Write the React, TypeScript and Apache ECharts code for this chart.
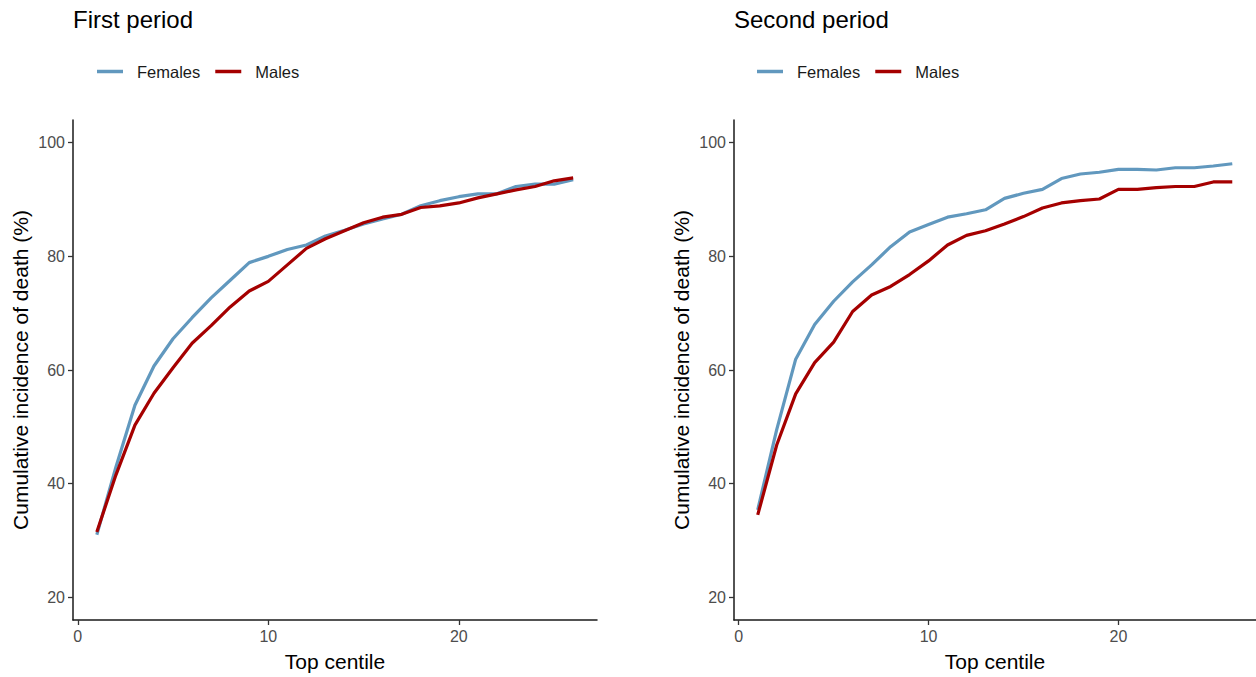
import React, { useEffect, useRef } from "react";
import * as echarts from "echarts";

const centiles = [1, 2, 3, 4, 5, 6, 7, 8, 9, 10, 11, 12, 13, 14, 15, 16, 17, 18, 19, 20, 21, 22, 23, 24, 25, 26];
const firstFemales = [31.0, 42.9, 53.8, 60.7, 65.5, 69.2, 72.7, 75.8, 78.9, 80.0, 81.2, 82.0, 83.6, 84.6, 85.7, 86.6, 87.4, 88.9, 89.8, 90.5, 91.0, 91.0, 92.3, 92.7, 92.7, 93.5];
const firstMales = [31.5, 41.5, 50.3, 55.9, 60.4, 64.7, 67.8, 71.1, 73.9, 75.6, 78.5, 81.4, 83.1, 84.5, 85.9, 86.9, 87.4, 88.6, 88.9, 89.4, 90.3, 91.0, 91.7, 92.3, 93.3, 93.8];
const secondFemales = [35.4, 49.5, 61.9, 68.0, 72.1, 75.5, 78.5, 81.7, 84.3, 85.6, 86.9, 87.5, 88.2, 90.2, 91.1, 91.8, 93.7, 94.5, 94.8, 95.3, 95.3, 95.2, 95.6, 95.6, 95.9, 96.3];
const secondMales = [34.5, 46.8, 55.8, 61.3, 64.9, 70.3, 73.2, 74.7, 76.8, 79.2, 82.0, 83.7, 84.5, 85.7, 87.0, 88.5, 89.4, 89.8, 90.1, 91.8, 91.8, 92.1, 92.3, 92.3, 93.1, 93.1];
const panelTitles = ["First period", "Second period"];
const xTicks = [0, 10, 20];
const yTicks = [20, 40, 60, 80, 100];

const FONT = "'Liberation Sans', Arial, sans-serif";
const BLUE = "#6198be";
const RED = "#a50000";

export default function App() {
  const ref = useRef<HTMLDivElement>(null);
  useEffect(() => {
    document.body.style.margin = "0";
    if (!ref.current) return;
    const chart = echarts.init(ref.current, undefined, { renderer: "svg" });
    const pair = (xs: number[], ys: number[]) => xs.map((x, i) => [x, ys[i]]);
    const mkX = (gi: number) => ({
      type: "value",
      gridIndex: gi,
      min: -0.25,
      max: 27.25,
      name: "Top centile",
      nameLocation: "middle",
      nameGap: 31,
      nameTextStyle: { fontSize: 21, color: "#000", fontFamily: FONT },
      axisLine: { show: true, onZero: false, lineStyle: { color: "#1a1a1a", width: 1.5 } },
      axisTick: { show: true, length: 5, customValues: xTicks, lineStyle: { color: "#333", width: 1.3 } },
      axisLabel: { customValues: xTicks, color: "#4d4d4d", fontSize: 16, fontFamily: FONT, margin: 8 },
      splitLine: { show: false },
    });
    const mkY = (gi: number) => ({
      type: "value",
      gridIndex: gi,
      min: 16,
      max: 104,
      name: "Cumulative incidence of death (%)",
      nameLocation: "middle",
      nameGap: 42,
      nameTextStyle: { fontSize: 21, color: "#000", fontFamily: FONT },
      axisLine: { show: true, onZero: false, lineStyle: { color: "#1a1a1a", width: 1.5 } },
      axisTick: { show: true, length: 5, customValues: yTicks, lineStyle: { color: "#333", width: 1.3 } },
      axisLabel: { customValues: yTicks, color: "#4d4d4d", fontSize: 16, fontFamily: FONT, margin: 8 },
      splitLine: { show: false },
    });
    const lineSeries = (name: string, gi: number, data: number[], color: string) => ({
      type: "line",
      name,
      xAxisIndex: gi,
      yAxisIndex: gi,
      data: pair(centiles, data),
      showSymbol: false,
      symbol: "none",
      lineStyle: { color, width: 3.2 },
      itemStyle: { color },
      z: name === "Males" ? 3 : 2,
    });
    const legend = (left: number) => ({
      left,
      top: 63,
      padding: 0,
      icon: "rect",
      itemWidth: 26,
      itemHeight: 3.5,
      itemGap: 15,
      data: ["Females", "Males"],
      textStyle: { fontSize: 16.5, color: "#1a1a1a", fontFamily: FONT, padding: [0, 0, 0, 9] },
    });
    const titleStyle = { fontSize: 24, fontWeight: "normal", color: "#000", fontFamily: FONT };
    chart.setOption({
      animation: false,
      backgroundColor: "#fff",
      title: [
        { text: panelTitles[0], left: 73, top: 7, padding: 0, textStyle: titleStyle },
        { text: panelTitles[1], left: 734, top: 7, padding: 0, textStyle: titleStyle },
      ],
      legend: [legend(97), legend(757)],
      grid: [
        { left: 73, right: 659, top: 120, bottom: 53 },
        { left: 734, right: 0, top: 120, bottom: 53 },
      ],
      xAxis: [mkX(0), mkX(1)],
      yAxis: [mkY(0), mkY(1)],
      series: [
        lineSeries("Females", 0, firstFemales, BLUE),
        lineSeries("Males", 0, firstMales, RED),
        lineSeries("Females", 1, secondFemales, BLUE),
        lineSeries("Males", 1, secondMales, RED),
      ],
    });
    return () => chart.dispose();
  }, []);
  return <div ref={ref} style={{ width: 1256, height: 677 }} />;
}
